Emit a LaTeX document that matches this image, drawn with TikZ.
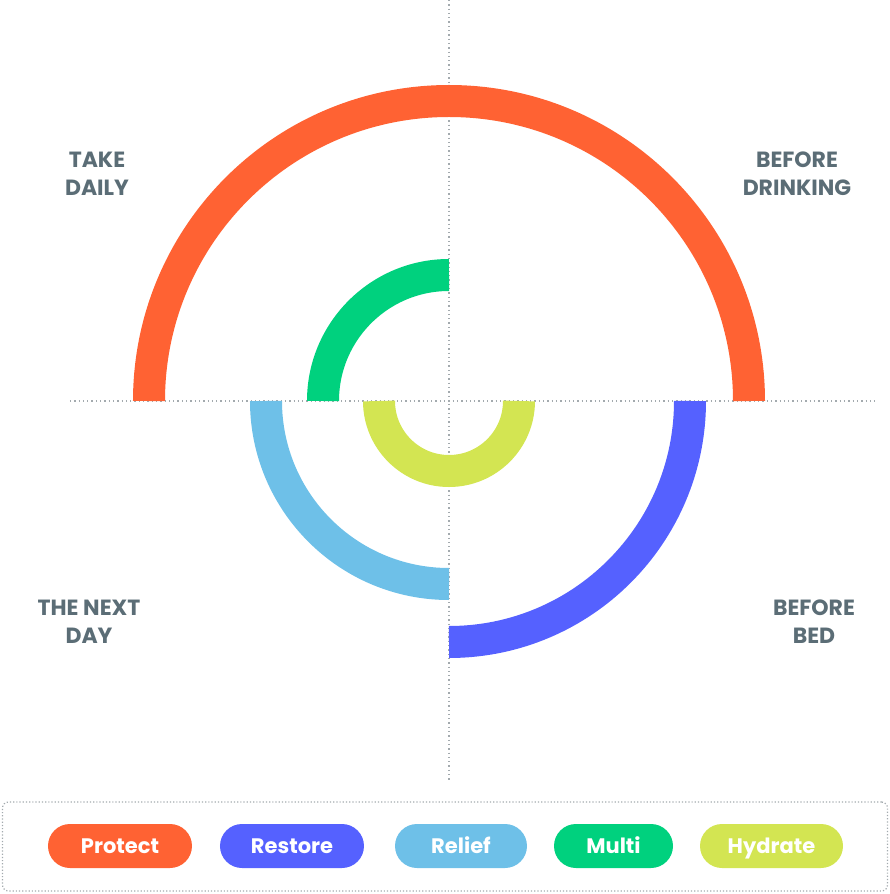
\documentclass[tikz,border=0pt]{standalone}
\usepackage{fontspec}
\setmainfont{Poppins}
\usetikzlibrary{positioning}
\definecolor{myorange}{HTML}{FF6233}
\definecolor{myblue}{HTML}{5561FF}
\definecolor{mysky}{HTML}{6EC0E8}
\definecolor{mygreen}{HTML}{00D17E}
\definecolor{mylime}{HTML}{D3E552}
\definecolor{mylabel}{HTML}{5B6D76}
\definecolor{mydots}{HTML}{A3AAAE}
\tikzset{
	axisline/.style={
			draw=mydots,
			line width=1.3pt,
			dash pattern=on 1.3pt off 3pt
		},
	ring/.style={
			line width=32pt,
			line cap=butt
		},
	timelabel/.style={
			align=center,
			text=mylabel,
			font=\bfseries\fontsize{22}{28}\selectfont,
			inner sep=0pt
		},
	pill/.style={
			rectangle,
			rounded corners=22pt,
			minimum height=44pt,
			text height=17pt,
			text depth=2pt,
			text=white,
			font=\bfseries\fontsize{21}{22}\selectfont,
			inner sep=0pt
		},
	legendbox/.style={
			rectangle,
			rounded corners=6pt,
			draw=mydots,
			line width=1.2pt,
			dash pattern=on 1.2pt off 2pt,
			minimum width=885pt,
			minimum height=89pt
		}
}

\begin{document}
\begin{tikzpicture}[x=1pt, y=1pt]
\useasboundingbox (-449,-493) rectangle (441,401);

% axes
\coordinate (top) at (0,401);
\coordinate (bottom) at (0,-379);
\coordinate (left) at (-379,0);
\coordinate (right) at (426,0);
\draw[axisline] (top) -- (bottom);
\draw[axisline] (left) -- (right);

% rings
\draw[ring, myorange] (-300,0) arc[start angle=180, end angle=0, radius=300];
\draw[ring, mygreen] (-126,0) arc[start angle=180, end angle=90, radius=126];
\draw[ring, mylime] (-70,0) arc[start angle=180, end angle=360, radius=70];
\draw[ring, mysky] (-183,0) arc[start angle=180, end angle=270, radius=183];
\draw[ring, myblue] (0,-241) arc[start angle=270, end angle=360, radius=241];

% labels
\node[timelabel] (daily) at (-352,227) {TAKE\\DAILY};
\node[timelabel] (drinking) at (348,227) {BEFORE\\DRINKING};
\node[timelabel] (nextday) at (-360,-221) {THE NEXT\\DAY};
\node[timelabel] (bed) at (365,-221) {BEFORE\\BED};

% legend
\node[legendbox] (legend) at (-4,-445.5) {};
\node[pill, fill=myorange, minimum width=144pt] (protect) at (-329,-445) {Protect};
\node[pill, fill=myblue, minimum width=144pt] (restore) at (-157,-445) {Restore};
\node[pill, fill=mysky, minimum width=132pt] (relief) at (12,-445) {Relief};
\node[pill, fill=mygreen, minimum width=119pt] (multi) at (164.5,-445) {Multi};
\node[pill, fill=mylime, minimum width=143pt] (hydrate) at (322.5,-445) {Hydrate};
\end{tikzpicture}
\end{document}
